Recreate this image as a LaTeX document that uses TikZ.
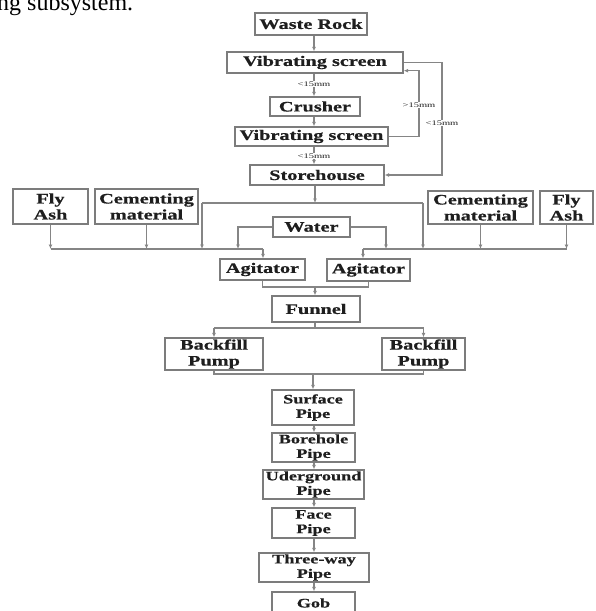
\documentclass[tikz,border=0pt]{standalone}
\usepackage{fontspec}
\setmainfont{Liberation Serif}
\newfontfamily\bxfont[FakeStretch=1.4,FakeBold=0.7]{Liberation Serif}
\newfontfamily\lblfont[FakeStretch=1.5]{Liberation Serif}
\usetikzlibrary{arrows.meta}
\definecolor{boxgray}{HTML}{7C7C7C}
\definecolor{linegray}{HTML}{858585}
\definecolor{txt}{HTML}{1E1E1E}
\begin{document}
\begin{tikzpicture}[x=1pt,y=-1pt,
  box/.style={draw=boxgray, line width=1.4pt, rectangle, inner sep=0pt, align=center,
    font=\bxfont\bfseries\fontsize{14.5}{16}\selectfont, text=txt},
  pbox/.style={box, font=\bxfont\bfseries\fontsize{13}{14.5}\selectfont},
  ln/.style={draw=linegray, line width=1.2pt},
  arr/.style={ln, -{Latex[length=4.5pt,width=4pt]}},
  lbl/.style={font=\lblfont\fontsize{7}{8}\selectfont, fill=white, inner sep=0.6pt, text=txt}
]
\useasboundingbox (0,0) rectangle (595,611);
\clip (0,0) rectangle (595,611);

\node[anchor=base west, inner sep=0pt, text=black, font=\fontsize{24}{26}\selectfont] (cap) at (-3,10) {ng subsystem.};

% main column nodes
\node[box, minimum width=112pt, minimum height=22pt] (wr) at (311,24) {Waste Rock};
\node[box, minimum width=176pt, minimum height=21pt] (vs1) at (315,62.5) {Vibrating screen};
\node[box, minimum width=90pt, minimum height=19pt] (cr) at (315,106.5) {Crusher};
\node[box, minimum width=153pt, minimum height=19pt] (vs2) at (311.5,136.5) {Vibrating screen};
\node[box, minimum width=134pt, minimum height=20pt] (sh) at (317,175) {Storehouse};

\node[box, minimum width=75pt, minimum height=35pt] (fal) at (50.5,206.5) {Fly\\Ash};
\node[box, minimum width=103pt, minimum height=35pt] (cml) at (146.5,206.5) {Cementing\\material};
\node[box, minimum width=77pt, minimum height=20pt] (wat) at (311.5,227) {Water};
\node[box, minimum width=105pt, minimum height=33pt] (cmr) at (480.5,207.5) {Cementing\\material};
\node[box, minimum width=53pt, minimum height=33pt] (far) at (566.5,207.5) {Fly\\Ash};

\node[box, minimum width=85pt, minimum height=21pt] (agl) at (262.5,269.5) {Agitator};
\node[box, minimum width=83pt, minimum height=22pt] (agr) at (368.5,270) {Agitator};
\node[box, minimum width=88pt, minimum height=26pt] (fun) at (316,309) {Funnel};
\node[box, minimum width=98pt, minimum height=32pt] (bfl) at (214,354) {Backfill\\Pump};
\node[box, minimum width=83pt, minimum height=32pt] (bfr) at (423.5,354) {Backfill\\Pump};

\node[pbox, minimum width=82pt, minimum height=35pt] (sp) at (313,407.5) {Surface\\Pipe};
\node[pbox, minimum width=83pt, minimum height=29pt] (bp) at (313.5,447.5) {Borehole\\Pipe};
\node[pbox, minimum width=101pt, minimum height=29pt] (up) at (313.5,484.5) {Uderground\\Pipe};
\node[pbox, minimum width=83pt, minimum height=30pt] (fp) at (313.5,523) {Face\\Pipe};
\node[pbox, minimum width=110pt, minimum height=29pt] (tp) at (314,567.5) {Three-way\\Pipe};
\node[pbox, minimum width=83pt, minimum height=22pt] (gob) at (313.5,603) {Gob};

% helper coordinates
\coordinate (ax) at (314,0);
\coordinate (l1) at (419,0);
\coordinate (l2) at (442,0);
\coordinate (v1in) at ([yshift=3pt]vs1.south east);
\coordinate (spl) at (315,203);
\coordinate (spll) at (202,203);
\coordinate (splr) at (423,203);
\coordinate (busL) at (263,249);
\coordinate (busR) at (363,249);
\coordinate (wl) at (238,0);
\coordinate (wrr) at (386,0);
\coordinate (aj) at (315,287);
\coordinate (fj) at (315,328);
\coordinate (bj) at (313,374);

% top chain
\draw[arr] (wr.south -| ax) -- (vs1.north -| ax);
\draw[arr] (vs1.south -| ax) -- node[lbl, pos=0.45] (t1) {<15mm} (cr.north -| ax);
\draw[arr] (cr.south -| ax) -- (vs2.north -| ax);
\draw[arr] (vs2.south -| ax) -- node[lbl, pos=0.55] (t2) {<15mm} (sh.north -| ax);

% loops
\draw[arr] (vs2.east) -- (vs2.east -| l1) -- (l1 |- v1in) -- (v1in);
\draw[arr] (vs1.east) -- (vs1.east -| l2) -- (l2 |- sh.east) -- (sh.east);
\node[lbl] (t3) at (419,105) {>15mm};
\node[lbl] (t4) at (442,123) {<15mm};

% storehouse split
\draw[arr] (sh.south -| spl) -- (spl);
\draw[ln] (spll) -- (splr);
\draw[arr] (spll) -- (spll |- busL);
\draw[arr] (splr) -- (splr |- busR);

% left bus
\draw[ln] (fal.south |- busL) -- (busL);
\draw[arr] (fal.south) -- (fal.south |- busL);
\draw[arr] (cml.south) -- (cml.south |- busL);
\draw[arr] (busL) -- (busL |- agl.north);

% right bus
\draw[ln] (far.south |- busR) -- (busR);
\draw[arr] (far.south) -- (far.south |- busR);
\draw[arr] (cmr.south) -- (cmr.south |- busR);
\draw[arr] (busR) -- (busR |- agr.north);

% water
\draw[arr] (wat.west) -- (wat.west -| wl) -- (wl |- busL);
\draw[arr] (wat.east) -- (wat.east -| wrr) -- (wrr |- busR);

% agitators to funnel
\draw[ln] (agl.south) -- (agl.south |- aj) -- (agr.south |- aj) -- (agr.south);
\draw[arr] (aj) -- (fun.north -| aj);

% funnel to pumps
\draw[ln] (fun.south -| fj) -- (fj);
\draw[ln] (bfl.north |- fj) -- (bfr.north |- fj);
\draw[arr] (bfl.north |- fj) -- (bfl.north);
\draw[arr] (bfr.north |- fj) -- (bfr.north);

% pumps to surface pipe
\draw[ln] (bfl.south) -- (bfl.south |- bj) -- (bfr.south |- bj) -- (bfr.south);
\draw[arr] (bj) -- (sp.north -| bj);

% pipe chain
\draw[arr] (sp.south -| ax) -- (bp.north -| ax);
\draw[arr] (bp.south -| ax) -- (up.north -| ax);
\draw[arr] (up.south -| ax) -- (fp.north -| ax);
\draw[arr] (fp.south -| ax) -- (tp.north -| ax);
\draw[arr] (tp.south -| ax) -- (gob.north -| ax);
\end{tikzpicture}
\end{document}
